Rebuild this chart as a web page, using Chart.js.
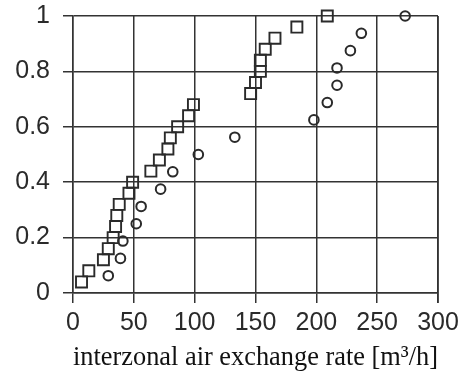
<!DOCTYPE html>
<html>
<head>
<meta charset="utf-8">
<script src="https://cdn.jsdelivr.net/npm/chart.js@4"></script>
<style>
    html, body { margin: 0; padding: 0; background: #ffffff; }
    #wrap { width: 464px; height: 377px; }
</style>
</head>
<body>
<div id="wrap"><canvas id="chart"></canvas></div>
<script>
// squares: rate [m3/h] and cumulative fraction
const squareRates = [7, 13, 25, 29, 33, 35, 36, 38, 46, 49, 64, 71, 78, 80, 86, 95, 99, 146, 150, 154, 154, 158, 166, 184, 209];
const squareFractions = [0.04, 0.08, 0.12, 0.16, 0.20, 0.24, 0.28, 0.32, 0.36, 0.40, 0.44, 0.48, 0.52, 0.56, 0.60, 0.64, 0.68, 0.72, 0.76, 0.80, 0.84, 0.88, 0.92, 0.96, 1.00];

// circles
const circleRates = [29, 39, 41, 52, 56, 72, 82, 103, 133, 198, 209, 217, 217, 228, 237, 273];
const circleFractions = [0.0625, 0.125, 0.1875, 0.25, 0.3125, 0.375, 0.4375, 0.5, 0.5625, 0.625, 0.6875, 0.75, 0.8125, 0.875, 0.9375, 1.0];

const xTitle = 'interzonal air exchange rate [m\u00B3/h]';

function toPoints(xs, ys) {
    return xs.map((x, i) => ({ x: x, y: ys[i] }));
}

const ink = '#2a2a2a';
const tickFont = { family: '"Liberation Sans", Arial, sans-serif', size: 25 };

new Chart(document.getElementById('chart'), {
    type: 'scatter',
    data: {
        datasets: [
            {
                label: 'squares',
                data: toPoints(squareRates, squareFractions),
                pointStyle: 'rect',
                pointRadius: 7.8,
                borderColor: ink,
                borderWidth: 1.9,
                backgroundColor: 'rgba(0,0,0,0)',
                clip: false
            },
            {
                label: 'circles',
                data: toPoints(circleRates, circleFractions),
                pointStyle: 'circle',
                pointRadius: 4.8,
                borderColor: ink,
                borderWidth: 2,
                backgroundColor: 'rgba(0,0,0,0)',
                clip: false
            }
        ]
    },
    options: {
        responsive: true,
        maintainAspectRatio: false,
        animation: false,
        layout: {
            padding: { top: 16, right: 26, left: 0, bottom: 0 }
        },
        plugins: {
            legend: { display: false },
            tooltip: { enabled: false }
        },
        scales: {
            x: {
                type: 'linear',
                min: 0,
                max: 300,
                ticks: {
                    stepSize: 50,
                    color: ink,
                    font: tickFont,
                    padding: 5,
                    maxRotation: 0
                },
                grid: {
                    color: '#333',
                    lineWidth: 1.5,
                    tickLength: 10
                },
                border: { color: '#333', width: 1.5 },
                title: {
                    display: true,
                    text: xTitle,
                    color: '#111',
                    font: { family: '"Liberation Serif", "Times New Roman", serif', size: 28 },
                    padding: { top: 0, bottom: 3 }
                },
                afterFit: function(scale) {
                    scale.height = 84;
                    scale.paddingLeft = 0;
                    scale.paddingRight = 20;
                }
            },
            y: {
                type: 'linear',
                min: 0,
                max: 1,
                ticks: {
                    stepSize: 0.2,
                    color: ink,
                    font: tickFont,
                    padding: 13,
                    callback: function(value) {
                        return String(Math.round(value * 10) / 10);
                    }
                },
                grid: {
                    color: '#333',
                    lineWidth: 1.5,
                    tickLength: 10
                },
                border: { color: '#333', width: 1.5 },
                afterFit: function(scale) {
                    scale.width = 73;
                    scale.paddingTop = 14;
                    scale.paddingBottom = 14;
                }
            }
        }
    },
    plugins: [{
        // right-hand frame line at x = 300
        id: 'rightFrame',
        afterDraw: function(chart) {
            const a = chart.chartArea;
            const c = chart.ctx;
            c.save();
            c.strokeStyle = '#333';
            c.lineWidth = 1.5;
            c.beginPath();
            c.moveTo(a.right, a.top);
            c.lineTo(a.right, a.bottom + 10);
            c.stroke();
            c.restore();
        }
    }]
});
</script>
</body>
</html>
